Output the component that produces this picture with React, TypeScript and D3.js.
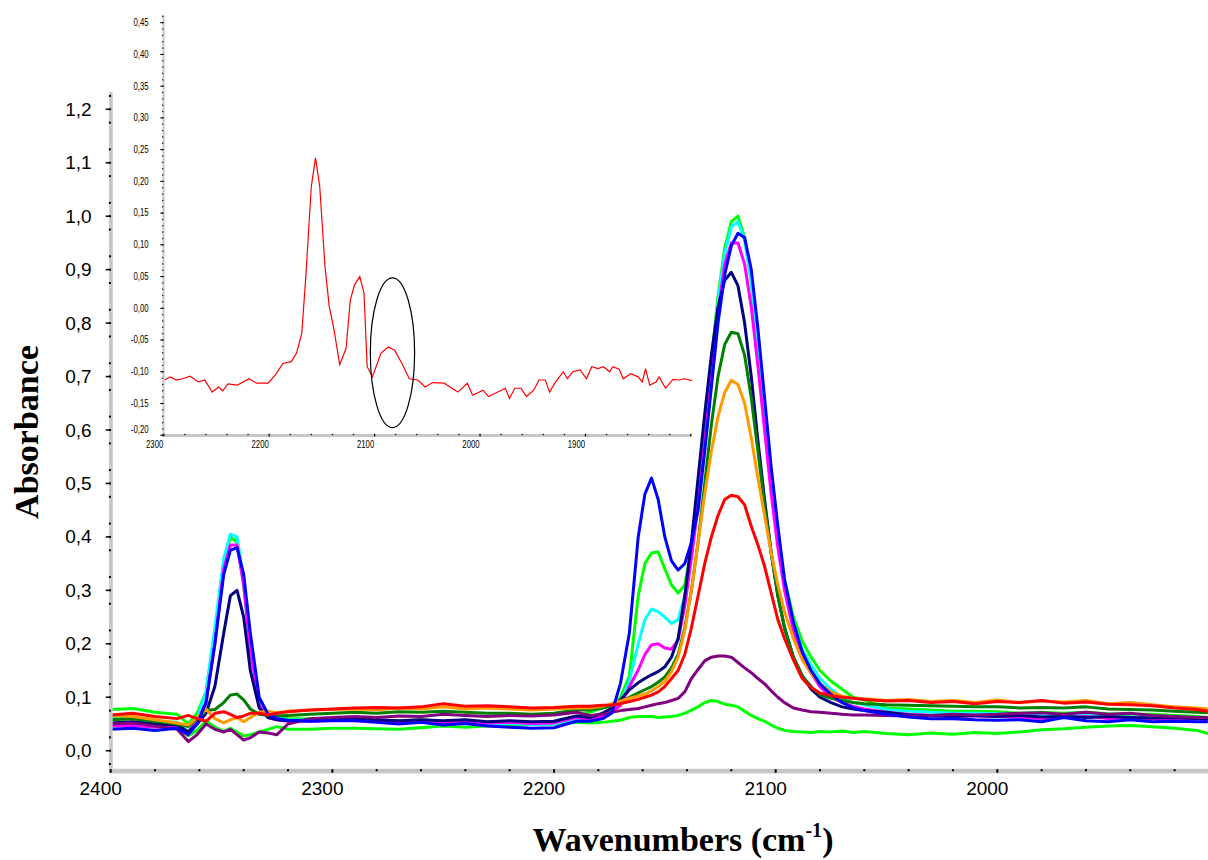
import React from "react";
import * as d3 from "d3";

// wavenumber grid (cm-1) shared by all main spectra
const wavenumbers = [
  2400, 2390, 2380, 2370,
  2365, 2361, 2357, 2353, 2349, 2346, 2343, 2340, 2337, 2333, 2329, 2325, 2320,
  2310, 2300, 2290, 2280, 2270, 2260, 2250, 2240, 2230, 2220, 2210, 2200, 2190,
  2184, 2178, 2174, 2170, 2166, 2162, 2159, 2156, 2153, 2150, 2147, 2144, 2141, 2138, 2135, 2132,
  2129, 2126, 2123, 2120, 2117, 2114, 2111, 2108, 2105, 2102, 2099, 2096, 2092, 2088, 2084, 2080,
  2075, 2070, 2065, 2060,
  2050, 2040, 2030, 2020, 2010, 2000, 1990, 1980, 1970, 1960, 1950, 1940, 1930, 1920, 1910, 1905,
];

const limeHigh = [
  0.077, 0.079, 0.072, 0.068,
  0.05, 0.07, 0.11, 0.22, 0.35, 0.4, 0.39, 0.31, 0.19, 0.09, 0.068, 0.064, 0.06,
  0.06, 0.06, 0.059, 0.057, 0.056, 0.058, 0.054, 0.056, 0.053, 0.054, 0.052, 0.054, 0.063,
  0.072, 0.08, 0.085, 0.1, 0.14, 0.29, 0.35, 0.37, 0.372, 0.34, 0.31, 0.295, 0.31, 0.38, 0.48, 0.6,
  0.73, 0.85, 0.94, 0.99, 1.0, 0.96, 0.88, 0.77, 0.64, 0.52, 0.41, 0.32, 0.25, 0.205, 0.175, 0.15,
  0.13, 0.115, 0.1, 0.095,
  0.08, 0.078, 0.076, 0.074, 0.074, 0.073, 0.07, 0.072, 0.07, 0.072, 0.069, 0.068, 0.068, 0.066, 0.064, 0.062,
];
const cyan = [
  0.059, 0.062, 0.055, 0.053,
  0.035, 0.06, 0.11, 0.23, 0.36, 0.405, 0.4, 0.32, 0.2, 0.095, 0.07, 0.062, 0.058,
  0.057, 0.058, 0.057, 0.055, 0.053, 0.056, 0.052, 0.054, 0.05, 0.051, 0.049, 0.05, 0.06,
  0.062, 0.07, 0.078, 0.09, 0.13, 0.2, 0.245, 0.265, 0.26, 0.25, 0.238, 0.245, 0.29, 0.37, 0.47, 0.59,
  0.72, 0.84, 0.93, 0.98, 0.99, 0.955, 0.875, 0.755, 0.63, 0.51, 0.4, 0.31, 0.24, 0.19, 0.16, 0.135,
  0.115, 0.1, 0.09, 0.086,
  0.077, 0.074, 0.072, 0.07, 0.07, 0.069, 0.068, 0.066, 0.065, 0.066, 0.064, 0.063, 0.064, 0.062, 0.061, 0.06,
];
const blue = [
  0.04, 0.042, 0.038, 0.042,
  0.03, 0.05, 0.09, 0.2, 0.33, 0.375, 0.38, 0.33, 0.22, 0.1, 0.068, 0.06, 0.057,
  0.055, 0.056, 0.056, 0.053, 0.05, 0.053, 0.048, 0.051, 0.046, 0.044, 0.042, 0.043, 0.055,
  0.055, 0.06, 0.07, 0.126, 0.22, 0.4, 0.48, 0.51, 0.47, 0.4, 0.355, 0.338, 0.35, 0.39, 0.45, 0.56,
  0.68, 0.8, 0.89, 0.945, 0.968, 0.96, 0.9, 0.79, 0.66, 0.53, 0.42, 0.32, 0.24, 0.185, 0.15, 0.125,
  0.105, 0.09, 0.08, 0.075,
  0.068, 0.063, 0.06, 0.06, 0.058, 0.057, 0.058, 0.054, 0.062, 0.056, 0.054, 0.058, 0.054, 0.055, 0.054, 0.054,
];
const magenta = [
  0.046, 0.047, 0.044, 0.046,
  0.035, 0.055, 0.09, 0.2, 0.34, 0.385, 0.385, 0.31, 0.19, 0.085, 0.062, 0.058, 0.055,
  0.055, 0.057, 0.058, 0.056, 0.054, 0.056, 0.053, 0.055, 0.052, 0.053, 0.051, 0.052, 0.062,
  0.058, 0.065, 0.072, 0.085, 0.12, 0.151, 0.18, 0.198, 0.2, 0.192, 0.19, 0.207, 0.27, 0.36, 0.46, 0.58,
  0.7, 0.82, 0.91, 0.95, 0.95, 0.91, 0.83, 0.72, 0.6, 0.48, 0.38, 0.3, 0.225, 0.175, 0.145, 0.12,
  0.1, 0.09, 0.083, 0.078,
  0.072, 0.068, 0.066, 0.065, 0.065, 0.064, 0.063, 0.06, 0.062, 0.064, 0.06, 0.062, 0.06, 0.058, 0.06, 0.058,
];
const navy = [
  0.052, 0.054, 0.05, 0.048,
  0.035, 0.05, 0.07, 0.12, 0.22, 0.29, 0.3, 0.25, 0.15, 0.08, 0.062, 0.058, 0.056,
  0.057, 0.058, 0.06, 0.058, 0.056, 0.058, 0.056, 0.058, 0.054, 0.056, 0.054, 0.055, 0.065,
  0.062, 0.07, 0.08, 0.095, 0.114, 0.127, 0.135, 0.142, 0.148, 0.157, 0.175, 0.21, 0.29, 0.39, 0.51, 0.63,
  0.74, 0.83, 0.88, 0.895, 0.87, 0.8, 0.7, 0.58, 0.47, 0.37, 0.29, 0.23, 0.175, 0.14, 0.115, 0.1,
  0.09, 0.082, 0.078, 0.075,
  0.072, 0.067, 0.066, 0.064, 0.066, 0.064, 0.066, 0.063, 0.064, 0.062, 0.064, 0.062, 0.061, 0.062, 0.06, 0.06,
];
const darkGreen = [
  0.058, 0.06, 0.055, 0.05,
  0.045, 0.06, 0.075, 0.077, 0.09, 0.104, 0.106, 0.095, 0.078, 0.068, 0.066, 0.065, 0.066,
  0.068, 0.07, 0.072, 0.07, 0.073, 0.072, 0.074, 0.072, 0.07, 0.07, 0.068, 0.07, 0.076,
  0.076, 0.08, 0.084, 0.09, 0.1, 0.108, 0.114, 0.12, 0.128, 0.138, 0.155, 0.18, 0.23, 0.3, 0.39, 0.5,
  0.61, 0.7, 0.76, 0.783, 0.78, 0.74, 0.66, 0.56, 0.46, 0.37, 0.29, 0.23, 0.175, 0.14, 0.12, 0.105,
  0.098, 0.094, 0.09, 0.088,
  0.086, 0.085, 0.084, 0.083, 0.082, 0.082, 0.08, 0.081, 0.08, 0.082, 0.078, 0.077, 0.076, 0.074, 0.072, 0.071,
];
const orange = [
  0.066, 0.064, 0.058, 0.052,
  0.048, 0.062, 0.078, 0.06, 0.052, 0.058, 0.062, 0.054, 0.062, 0.072, 0.074, 0.071, 0.074,
  0.076, 0.077, 0.078, 0.076, 0.08, 0.078, 0.082, 0.078, 0.08, 0.078, 0.076, 0.078, 0.08,
  0.08, 0.083, 0.088, 0.093, 0.098, 0.102, 0.106, 0.112, 0.12, 0.13, 0.148, 0.175, 0.225, 0.3, 0.39, 0.48,
  0.56, 0.625, 0.67, 0.693, 0.685, 0.65, 0.585, 0.51, 0.44, 0.37, 0.31, 0.26, 0.21, 0.17, 0.145, 0.125,
  0.11, 0.102, 0.098, 0.097,
  0.094, 0.096, 0.092, 0.094, 0.09, 0.095, 0.09, 0.093, 0.091, 0.094, 0.088, 0.09, 0.086, 0.082, 0.08, 0.078,
];
const red = [
  0.067, 0.07, 0.064, 0.06,
  0.066, 0.06, 0.055, 0.07, 0.073, 0.068, 0.062, 0.065, 0.07, 0.07, 0.067, 0.07, 0.073,
  0.076, 0.078, 0.08, 0.081, 0.08, 0.082, 0.088, 0.083, 0.084, 0.082, 0.08, 0.081, 0.083,
  0.083, 0.085, 0.085, 0.088, 0.092, 0.096, 0.1, 0.104, 0.11, 0.12, 0.135, 0.15, 0.18, 0.23, 0.29, 0.35,
  0.4, 0.44, 0.47, 0.478, 0.475, 0.46, 0.42, 0.385, 0.345, 0.295, 0.245, 0.21, 0.17, 0.135, 0.118, 0.108,
  0.103, 0.1, 0.098, 0.096,
  0.093, 0.094, 0.09, 0.092, 0.088, 0.092, 0.09, 0.094, 0.089, 0.091, 0.087, 0.086, 0.084, 0.08, 0.077, 0.074,
];
const purple = [
  0.05, 0.052, 0.046, 0.04,
  0.017, 0.03, 0.05, 0.04, 0.035, 0.04, 0.03, 0.02, 0.024, 0.035, 0.033, 0.03, 0.05,
  0.06, 0.062, 0.064, 0.062, 0.065, 0.064, 0.068, 0.066, 0.064, 0.066, 0.065, 0.067, 0.072,
  0.066, 0.068, 0.072, 0.075, 0.077, 0.079, 0.082, 0.085, 0.088, 0.09, 0.094, 0.098, 0.11, 0.135, 0.152, 0.168,
  0.175, 0.177, 0.177, 0.175, 0.165, 0.155, 0.146, 0.135, 0.125, 0.112, 0.1, 0.09, 0.08, 0.076, 0.073, 0.072,
  0.07, 0.068, 0.067, 0.067,
  0.066, 0.065, 0.066, 0.068, 0.067, 0.068, 0.07, 0.071, 0.068, 0.072, 0.068, 0.07, 0.066, 0.064, 0.062, 0.062,
];
const limeLow = [
  0.062, 0.06, 0.052, 0.045,
  0.028, 0.038, 0.056, 0.044, 0.036, 0.042, 0.035, 0.028, 0.03, 0.035, 0.04, 0.045, 0.04,
  0.04, 0.042, 0.042, 0.041, 0.04, 0.043, 0.046, 0.044, 0.046, 0.047, 0.049, 0.05, 0.053,
  0.052, 0.053, 0.055, 0.057, 0.062, 0.064, 0.064, 0.064, 0.062, 0.063, 0.064, 0.066, 0.07, 0.076, 0.082, 0.09,
  0.094, 0.092, 0.087, 0.085, 0.082, 0.074, 0.066, 0.06, 0.055, 0.048, 0.042, 0.038, 0.036, 0.035, 0.034, 0.036,
  0.035, 0.037, 0.034, 0.036,
  0.032, 0.03, 0.033, 0.031, 0.034, 0.032, 0.035, 0.039, 0.041, 0.044, 0.046, 0.047, 0.045, 0.042, 0.038, 0.032,
];

// drawing order: first is at the bottom
const seriesList = [
  { name: "limeLow", color: "#00ff00", values: limeLow },
  { name: "limeHigh", color: "#00ff00", values: limeHigh },
  { name: "cyan", color: "#00ffff", values: cyan },
  { name: "magenta", color: "#ff00ff", values: magenta },
  { name: "navy", color: "#000080", values: navy },
  { name: "darkGreen", color: "#008000", values: darkGreen },
  { name: "purple", color: "#800080", values: purple },
  { name: "orange", color: "#ff9900", values: orange },
  { name: "blue", color: "#0000ff", values: blue },
  { name: "red", color: "#ff0000", values: red },
];

const yTicks = [0, 0.1, 0.2, 0.3, 0.4, 0.5, 0.6, 0.7, 0.8, 0.9, 1.0, 1.1, 1.2];
const xTicks = [2400, 2300, 2200, 2100, 2000];

// inset difference spectrum
const insetWn = [
  2299, 2294, 2288, 2282, 2275, 2267, 2261, 2254, 2248, 2244, 2239, 2230, 2219, 2212, 2201, 2194, 2187,
  2179, 2174, 2169, 2165, 2160, 2156, 2152, 2147, 2143, 2139, 2133, 2127, 2123, 2119, 2114, 2110, 2107,
  2102, 2094, 2087, 2081, 2074, 2067, 2059, 2052, 2045, 2034, 2021, 2012, 2007, 1997, 1992, 1987, 1976,
  1972, 1967, 1961, 1956, 1949, 1944, 1938, 1934, 1929, 1921, 1917, 1912, 1905, 1899, 1894, 1888, 1883,
  1877, 1874, 1868, 1864, 1857, 1850, 1846, 1843, 1839, 1833, 1830, 1824, 1817, 1811, 1806, 1799,
];
const insetAbs = [
  -0.113, -0.108, -0.113, -0.111, -0.107, -0.116, -0.113, -0.132, -0.124, -0.13, -0.119, -0.121, -0.111,
  -0.118, -0.118, -0.105, -0.087, -0.084, -0.071, -0.039, 0.055, 0.192, 0.237, 0.192, 0.066, 0.003, -0.029,
  -0.089, -0.063, 0.013, 0.037, 0.05, 0.024, -0.092, -0.108, -0.071, -0.061, -0.066, -0.087, -0.111, -0.113,
  -0.124, -0.117, -0.118, -0.132, -0.118, -0.137, -0.129, -0.139, -0.135, -0.126, -0.142, -0.126, -0.126,
  -0.139, -0.129, -0.113, -0.113, -0.132, -0.118, -0.1, -0.111, -0.1, -0.097, -0.111, -0.092, -0.095,
  -0.092, -0.1, -0.092, -0.096, -0.111, -0.103, -0.108, -0.116, -0.095, -0.121, -0.116, -0.108, -0.126,
  -0.112, -0.113, -0.111, -0.114,
];
const insetYTicks = [0.45, 0.4, 0.35, 0.3, 0.25, 0.2, 0.15, 0.1, 0.05, 0, -0.05, -0.1, -0.15, -0.2];
const insetXTicks = [2300, 2200, 2100, 2000, 1900];
// circled band in the inset
const ellipseMark = { wn: 2083, abs: -0.07, dWn: 21, dAbs: 0.118 };

const locale = d3.formatLocale({
  decimal: ",",
  thousands: ".",
  grouping: [3],
  currency: ["", ""],
  minus: "-",
});
const fmt1 = locale.format(".1f");
const fmt2 = locale.format(".2f");

export default function App() {
  const width = 1208;
  const height = 860;

  // main chart scales
  const x = d3.scaleLinear().domain([2400, 2000]).range([110.7, 997.3]);
  const y = d3.scaleLinear().domain([0, 1.2]).range([750.7, 109.3]);
  const xEnd = 1905;

  const line = d3
    .line<number>()
    .x((_, i) => x(wavenumbers[i]))
    .y((d) => y(d));

  // inset scales
  const ix = d3.scaleLinear().domain([2300, 1900]).range([163.7, 585.4]);
  const iy = d3.scaleLinear().domain([0, 0.45]).range([308.3, 22.7]);
  const insetLine = d3
    .line<number>()
    .x((_, i) => ix(insetWn[i]))
    .y((d) => iy(d));

  const xMinor = d3.range(2400, xEnd - 1, -20);
  const yMinor = d3.range(-1, 50).map((i) => i * 0.025).filter((_, i) => (i + 1) % 4 !== 0);
  const ixMinor = d3.range(2300, 1799, -20);
  const iyMinor = d3.range(-20, 47).map((i) => i / 100);

  const axisGray = "#c6c6c6";
  const sans = "'Liberation Sans', Arial, sans-serif";
  const serif = "'Liberation Serif', 'Times New Roman', serif";
  const x0 = x(2400);

  return (
    <svg
      width={width}
      height={height}
      style={{ position: "absolute", left: 0, top: 0, background: "#fff" }}
    >
      <rect width={width} height={height} fill="#fff" />

      {/* spectra */}
      <g fill="none" strokeWidth={3} strokeLinejoin="round">
        {seriesList.map((s) => (
          <path key={s.name} d={line(s.values) ?? ""} stroke={s.color} />
        ))}
      </g>

      {/* main y axis */}
      <rect x={x0 - 1.6} y={y(1.232)} width={3.6} height={y(-0.04) - y(1.232)} fill={axisGray} />
      {yMinor.map((v) => (
        <rect key={"ym" + v} x={x0 - 1.8} y={y(v) - 1} width={2} height={2} fill="#000" />
      ))}
      {yTicks.map((v) => (
        <g key={"yt" + v}>
          <line x1={x0 - 5} x2={x0} y1={y(v)} y2={y(v)} stroke="#000" strokeWidth={1.5} />
          <text
            x={91.7}
            y={y(v)}
            textAnchor="end"
            dominantBaseline="central"
            fontFamily={sans}
            fontSize={19}
            fill="#000"
          >
            {fmt1(v)}
          </text>
        </g>
      ))}

      {/* main x axis */}
      <rect x={x0 - 1.6} y={768.8} width={width - x0 + 2} height={4.6} fill={axisGray} />
      {xMinor.map((v) => (
        <rect
          key={"xm" + v}
          x={x(v) - 1}
          y={769.2}
          width={2}
          height={v % 100 === 0 ? 3.5 : 2}
          fill="#000"
        />
      ))}
      {xTicks.map((v) => (
        <text
          key={"xt" + v}
          x={x(v) - 10}
          y={795}
          textAnchor="middle"
          fontFamily={sans}
          fontSize={19}
          fill="#000"
        >
          {v}
        </text>
      ))}

      {/* axis titles */}
      <text
        transform="translate(38,432) rotate(-90)"
        textAnchor="middle"
        fontFamily={serif}
        fontWeight="bold"
        fontSize={34}
        fill="#000"
      >
        Absorbance
      </text>
      <text x={683} y={851} textAnchor="middle" fontFamily={serif} fontWeight="bold" fontSize={34} fill="#000">
        Wavenumbers (cm
        <tspan dy={-14} fontSize={20}>
          -1
        </tspan>
        <tspan dy={14}>)</tspan>
      </text>

      {/* inset */}
      <g>
        <rect x={ix(2300) - 1.2} y={iy(0.462)} width={2} height={iy(-0.2) - iy(0.462) + 1} fill={axisGray} />
        <rect x={ix(2300) - 1.2} y={iy(-0.2) - 1.2} width={ix(1800) - ix(2300) + 1.2} height={3} fill={axisGray} />
        {iyMinor.map((v) => (
          <rect key={"iym" + v} x={ix(2300) - 1.6} y={iy(v) - 0.6} width={1.2} height={1.2} fill="#000" />
        ))}
        {insetYTicks.map((v) => (
          <g key={"iyt" + v}>
            <line x1={ix(2300) - 3.5} x2={ix(2300)} y1={iy(v)} y2={iy(v)} stroke="#000" strokeWidth={1} />
            <g transform={`translate(148.6,${v === -0.2 ? iy(v) - 6 : iy(v)}) scale(0.78,1)`}>
              <text
                textAnchor="end"
                dominantBaseline="central"
                fontFamily={sans}
                fontSize={10}
                fill="#000"
              >
                {fmt2(v)}
              </text>
            </g>
          </g>
        ))}
        {ixMinor.map((v) => (
          <rect key={"ixm" + v} x={ix(v) - 0.6} y={iy(-0.2) - 1.4} width={1.3} height={v % 100 === 0 ? 2.5 : 1.3} fill="#000" />
        ))}
        {insetXTicks.map((v) => (
          <g key={"ixt" + v} transform={`translate(${ix(v) - 9},448) scale(0.78,1)`}>
            <text textAnchor="middle" fontFamily={sans} fontSize={10} fill="#000">
              {v}
            </text>
          </g>
        ))}
        <path d={insetLine(insetAbs) ?? ""} fill="none" stroke="#ff0000" strokeWidth={1.2} />
        <ellipse
          cx={ix(ellipseMark.wn)}
          cy={iy(ellipseMark.abs)}
          rx={ix(ellipseMark.wn - ellipseMark.dWn) - ix(ellipseMark.wn)}
          ry={iy(ellipseMark.abs - ellipseMark.dAbs) - iy(ellipseMark.abs)}
          fill="none"
          stroke="#000"
          strokeWidth={1.2}
        />
      </g>
    </svg>
  );
}
